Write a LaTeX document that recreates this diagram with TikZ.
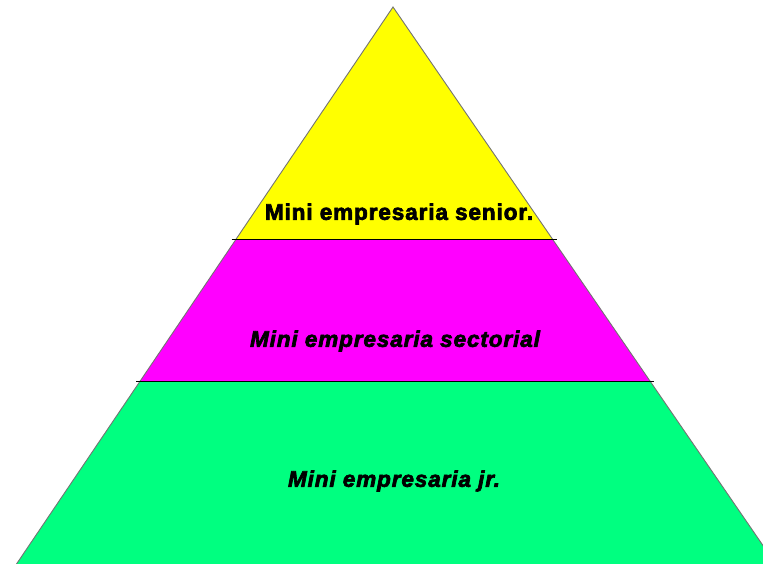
\documentclass[tikz,border=0pt]{standalone}
\usepackage{fontspec}
\setmainfont{Liberation Sans}[BoldFeatures={FakeBold=3},BoldItalicFeatures={FakeBold=3}]
\begin{document}
\begin{tikzpicture}[x=1pt,y=-1pt,
  edge/.style={draw=black!55,line width=0.9pt},
  sep/.style={draw=black,line width=1pt},
  lbl/.style={inner sep=0pt,font=\fontsize{22.5}{26}\selectfont\bfseries}]
\useasboundingbox (0,0) rectangle (763,564);
\clip (0,0) rectangle (763,564);
\coordinate (A) at (393,7);
\coordinate (L1) at (235.5,240);
\coordinate (R1) at (553.1,240);
\coordinate (L2) at (140.2,381);
\coordinate (R2) at (649.9,381);
\coordinate (L3) at (16.5,564);
\coordinate (R3) at (775.7,564);
\fill[fill={rgb,255:red,255;green,255;blue,0}] (A) -- (R1) -- (L1) -- cycle;
\fill[fill={rgb,255:red,255;green,0;blue,255}] (L1) -- (R1) -- (R2) -- (L2) -- cycle;
\fill[fill={rgb,255:red,0;green,255;blue,128}] (L2) -- (R2) -- (R3) -- (L3) -- cycle;
\draw[edge] (L3) -- (A) -- (R3);
\draw[sep] ([xshift=-4pt]L1) -- ([xshift=4pt]R1);
\draw[sep] ([xshift=-4pt]L2) -- ([xshift=4pt]R2);
\node[lbl] (t1) at (399,214) {\addfontfeature{LetterSpace=4}Mini empresaria senior.};
\node[lbl] (t2) at (395,341) {\itshape\addfontfeature{LetterSpace=4}Mini empresaria sectorial};
\node[lbl] (t3) at (394,481) {\itshape\addfontfeature{LetterSpace=4}Mini empresaria jr.};
\end{tikzpicture}
\end{document}
